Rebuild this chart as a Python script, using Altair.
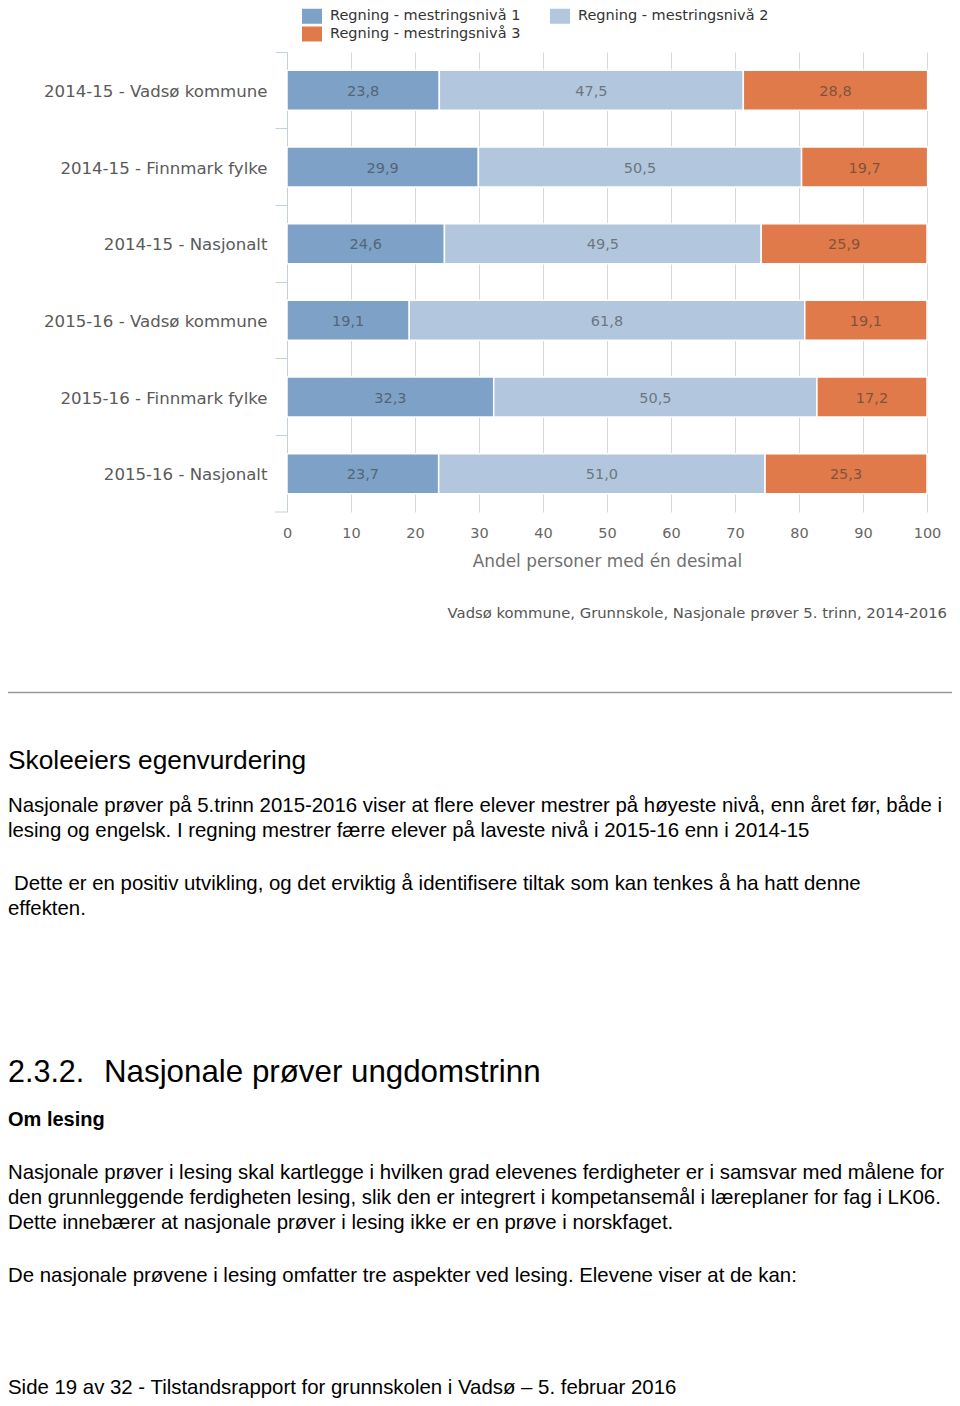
import altair as alt
import pandas as pd

categories = [
    "2014-15 - Vadsø kommune",
    "2014-15 - Finnmark fylke",
    "2014-15 - Nasjonalt",
    "2015-16 - Vadsø kommune",
    "2015-16 - Finnmark fylke",
    "2015-16 - Nasjonalt",
]
series = [
    "Regning - mestringsnivå 1",
    "Regning - mestringsnivå 2",
    "Regning - mestringsnivå 3",
]
niva1 = [23.8, 29.9, 24.6, 19.1, 32.3, 23.7]
niva2 = [47.5, 50.5, 49.5, 61.8, 50.5, 51.0]
niva3 = [28.8, 19.7, 25.9, 19.1, 17.2, 25.3]
x_ticks = [0, 10, 20, 30, 40, 50, 60, 70, 80, 90, 100]
colors = ["#7ea1c7", "#b2c7dd", "#e07a4b"]

x_title = "Andel personer med én desimal"
caption = "Vadsø kommune, Grunnskole, Nasjonale prøver 5. trinn, 2014-2016"
heading1 = "Skoleeiers egenvurdering"
para1 = [
    "Nasjonale prøver på 5.trinn 2015-2016 viser at flere elever mestrer på høyeste nivå, enn året før, både i",
    "lesing og engelsk. I regning mestrer færre elever på laveste nivå i 2015-16 enn i 2014-15",
]
para2 = [
    "Dette er en positiv utvikling, og det erviktig å identifisere tiltak som kan tenkes å ha hatt denne",
    "effekten.",
]
h2_num = "2.3.2."
h2_text = "Nasjonale prøver ungdomstrinn"
h3 = "Om lesing"
para3 = [
    "Nasjonale prøver i lesing skal kartlegge i hvilken grad elevenes ferdigheter er i samsvar med målene for",
    "den grunnleggende ferdigheten lesing, slik den er integrert i kompetansemål i læreplaner for fag i LK06.",
    "Dette innebærer at nasjonale prøver i lesing ikke er en prøve i norskfaget.",
]
para4 = "De nasjonale prøvene i lesing omfatter tre aspekter ved lesing. Elevene viser at de kan:"
footer = "Side 19 av 32 - Tilstandsrapport for grunnskolen i Vadsø – 5. februar 2016"

rows = []
for i, c in enumerate(categories):
    for lvl, vals in enumerate([niva1, niva2, niva3]):
        rows.append({"category": c, "series": series[lvl], "level": lvl + 1, "value": vals[i]})
df = pd.DataFrame(rows)

CH_FONT = "DejaVu Sans"
DOC_FONT = "Liberation Sans"

base = alt.Chart(df).transform_stack(
    stack="value",
    groupby=["category"],
    sort=[alt.SortField(field="level", order="ascending")],
    as_=["x0", "x1"],
)

bars = base.mark_bar(size=40, stroke="white", strokeWidth=1.5).encode(
    x=alt.X(
        "x0:Q",
        scale=alt.Scale(domain=[0, 100], nice=False, zero=True),
        axis=alt.Axis(
            values=x_ticks,
            grid=True,
            gridColor="#D8D8D8",
            ticks=False,
            domain=False,
            labelFlush=False,
            labelPadding=14,
            labelFont=CH_FONT,
            labelFontSize=14.5,
            labelColor="#666666",
            title=x_title,
            titleFont=CH_FONT,
            titleFontSize=16.9,
            titleFontWeight="normal",
            titleColor="#707070",
            titlePadding=14,
        ),
    ),
    x2="x1:Q",
    y=alt.Y(
        "category:N",
        sort=categories,
        scale=alt.Scale(paddingInner=0, paddingOuter=0),
        axis=alt.Axis(
            title=None,
            bandPosition=0,
            grid=False,
            tickSize=12,
            tickColor="#C0D0E0",
            domainColor="#C0D0E0",
            labelPadding=8,
            labelFont=CH_FONT,
            labelFontSize=16.6,
            labelColor="#5a5a5a",
            labelLimit=400,
            labelOffset=1.5,
        ),
    ),
    color=alt.Color(
        "series:N",
        scale=alt.Scale(domain=series, range=colors),
        legend=alt.Legend(
            title=None,
            orient="none",
            direction="horizontal",
            legendX=15,
            legendY=-46,
            columns=2,
            symbolType="M-1,-0.75H1V0.75H-1Z",
            symbolSize=400,
            symbolStrokeWidth=0,
            symbolOpacity=1,
            labelFont=CH_FONT,
            labelFontSize=14.5,
            labelColor="#333333",
            labelOffset=8,
            columnPadding=29,
            rowPadding=0,
            padding=0,
            labelLimit=300,
        ),
    ),
)

labels = base.transform_calculate(
    mid="(datum.x0 + datum.x1) / 2",
    lab="replace(format(datum.value, '.1f'), '.', ',')",
).mark_text(font=CH_FONT, fontSize=14.5, color="#333333", opacity=0.55, dy=1.5).encode(
    x="mid:Q",
    y=alt.Y("category:N", sort=categories),
    text="lab:N",
)

one = alt.Data(values=[{}])

bottom_tick = alt.Chart(one).mark_rule(color="#C0D0E0", strokeWidth=1).encode(
    x=alt.value(-12), x2=alt.value(0), y=alt.value(460)
)
hr = alt.Chart(one).mark_rule(color="#999999", strokeWidth=1.5).encode(
    x=alt.value(-279), x2=alt.value(665), y=alt.value(640.5)
)

OX, OY = 287, 52  # page position of the plot origin


def txt(s, px, py, size, font=DOC_FONT, bold=False, align="left", color="#000000"):
    return alt.Chart(one).mark_text(
        text=s,
        align=align,
        baseline="middle",
        font=font,
        fontSize=size,
        fontWeight="bold" if bold else "normal",
        color=color,
    ).encode(x=alt.value(px - OX), y=alt.value(py - OY))


BODY = 20.4
texts = [
    txt(caption, 947, 614, 14.8, font=CH_FONT, align="right", color="#555555"),
    txt(heading1, 8, 761, 26.3),
    txt(para1[0], 8, 806, BODY),
    txt(para1[1], 8, 831, BODY),
    txt(para2[0], 14, 884, BODY),
    txt(para2[1], 8, 909, BODY),
    txt(h2_num, 8, 1073, 30.5),
    txt(h2_text, 104, 1073, 31.3),
    txt(h3, 8, 1120, 20, bold=True),
    txt(para3[0], 8, 1173, BODY),
    txt(para3[1], 8, 1198, BODY),
    txt(para3[2], 8, 1223, BODY),
    txt(para4, 8, 1276, BODY),
    txt(footer, 8, 1388, BODY),
]

chart = alt.layer(bars, labels, bottom_tick, hr, *texts).properties(
    width=640,
    height=460,
    padding={"left": 279, "top": 44, "right": 25, "bottom": 886},
    autosize=alt.AutoSizeParams(type="none"),
).configure_view(stroke=None)

chart.save("out.html", embed_options={"renderer": "svg", "actions": False})
